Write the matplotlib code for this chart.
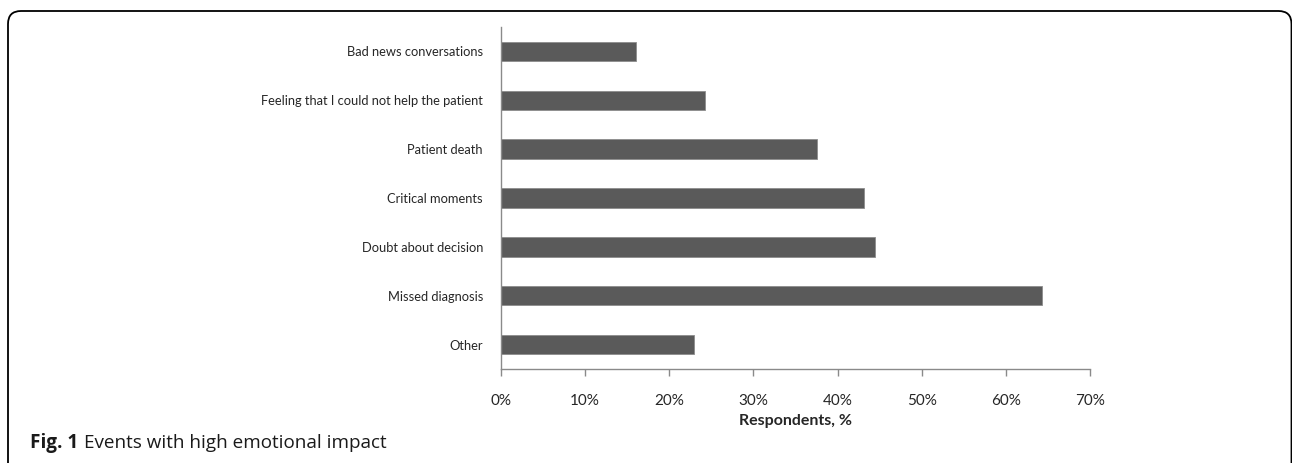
import matplotlib.pyplot as plt
from matplotlib.patches import FancyBboxPatch
from matplotlib.ticker import PercentFormatter

# share of respondents per event (%)
events = ['Bad news conversations', 'Feeling that I could not help the patient',
          'Patient death', 'Critical moments', 'Doubt about decision',
          'Missed diagnosis', 'Other']
respondents = [16.0, 24.3, 37.5, 43.1, 44.4, 64.3, 22.9]
x_ticks = [0, 10, 20, 30, 40, 50, 60, 70]

plt.rcParams['font.family'] = ['Lato', 'DejaVu Sans']

W, H = 1292, 463
fig = plt.figure(figsize=(W / 100, H / 100), dpi=100)
ax = fig.add_axes([501 / W, 1 - 369 / H, 589 / W, 342 / H])

ax.barh(events, respondents, height=0.4, color='#5a5a5a',
        edgecolor='#8c8c8c', linewidth=0.6)
ax.set_ylim(len(events) - 0.5, -0.5)
ax.set_xlim(0, 70)
ax.set_xticks(x_ticks)
ax.xaxis.set_major_formatter(PercentFormatter(decimals=0))

for side in ['top', 'right']:
    ax.spines[side].set_visible(False)
for side in ['left', 'bottom']:
    ax.spines[side].set_color('#8a8a8a')
    ax.spines[side].set_linewidth(1.0)

ax.tick_params(axis='x', direction='out', length=5, width=1, color='#8a8a8a',
               pad=13, labelsize=11, labelcolor='#262626')
ax.tick_params(axis='y', length=0, pad=13, labelsize=9.3, labelcolor='#262626')
ax.set_xlabel('Respondents, %', fontsize=11.5, fontweight='bold',
              color='#262626', labelpad=4)

# rounded frame around the figure (open at the bottom)
frame = FancyBboxPatch((0.08, -0.4), 12.835, 4.92,
                       boxstyle='round,pad=0,rounding_size=0.13',
                       transform=fig.dpi_scale_trans, fill=False,
                       edgecolor='black', linewidth=1.3)
fig.add_artist(frame)

# caption
cap_y = 1 - 443 / H
cap = fig.text(30 / W, cap_y, 'Fig. 1', fontsize=13.6, fontweight='bold',
               family=['Open Sans', 'DejaVu Sans'], va='center', color='#1a1a1a')
renderer = fig.canvas.get_renderer()
bb = cap.get_window_extent(renderer=renderer)
fig.text((bb.x1 + 6) / W, cap_y, 'Events with high emotional impact',
         fontsize=13.6, family=['Open Sans', 'DejaVu Sans'], va='center',
         color='#1a1a1a')

fig.savefig('out.png', dpi=100)
